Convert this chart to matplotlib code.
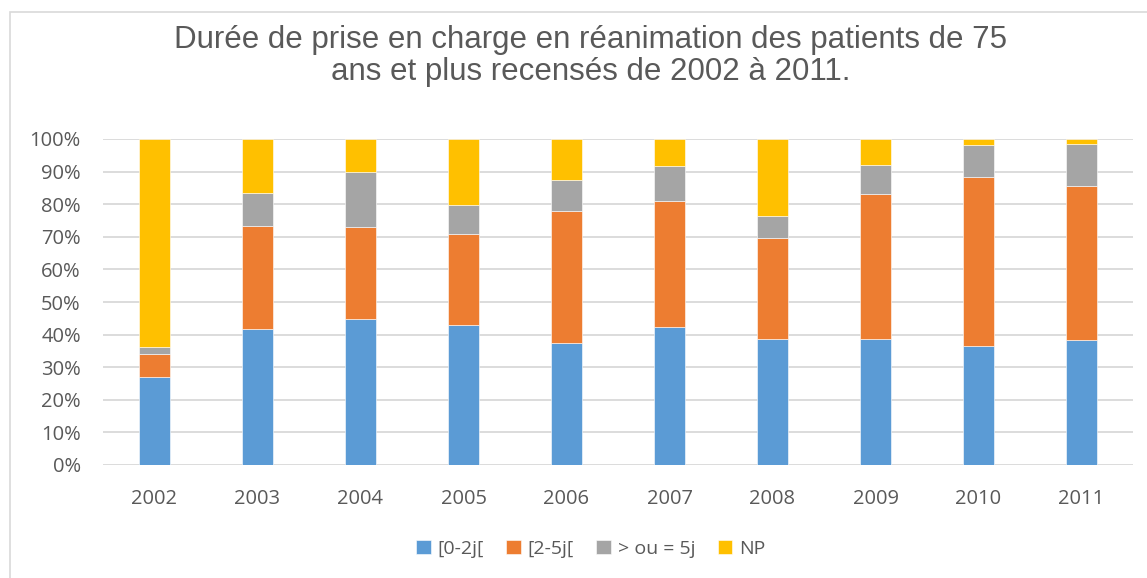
import numpy as np
import matplotlib.pyplot as plt
from matplotlib.patches import Rectangle
from matplotlib.ticker import FuncFormatter

years = ["2002", "2003", "2004", "2005", "2006", "2007", "2008", "2009", "2010", "2011"]
d_0_2 = [27.1, 41.6, 44.7, 43.0, 37.3, 42.2, 38.5, 38.5, 36.6, 38.2]
d_2_5 = [6.9, 31.7, 28.4, 28.0, 40.7, 38.7, 31.2, 44.5, 51.8, 47.5]
d_5p = [2.3, 10.1, 16.9, 8.7, 9.5, 10.9, 6.8, 8.9, 9.9, 12.9]
d_np = [63.7, 16.6, 10.0, 20.3, 12.5, 8.2, 23.5, 8.1, 1.7, 1.4]

labels = ["[0-2j[", "[2-5j[", "> ou = 5j", "NP"]
colors = ["#5b9bd5", "#ed7d31", "#a5a5a5", "#ffc000"]

fig = plt.figure(figsize=(11.47, 5.78), dpi=100)
fig.patches.append(Rectangle((10 / 1147, -0.01), 1.0, 1 - 12 / 578 + 0.01, transform=fig.transFigure,
                             fill=False, edgecolor="#d9d9d9", linewidth=1.2))
ax = fig.add_axes([103 / 1147, 1 - 465 / 578, 1030 / 1147, 326 / 578])

x = np.arange(len(years))
series = [d_0_2, d_2_5, d_5p, d_np]
bottom = np.zeros(len(years))
handles = []
for vals, lab, col in zip(series, labels, colors):
    vals = np.array(vals)
    b = ax.bar(x, vals, 0.31, bottom=bottom, color=col, label=lab, zorder=3,
               edgecolor="white", linewidth=0.4)
    handles.append(b)
    bottom += vals

ax.set_xlim(-0.5, len(years) - 0.5)
ax.set_ylim(0, 100)
ax.set_yticks(np.arange(0, 101, 10))
ax.yaxis.set_major_formatter(FuncFormatter(lambda v, p: "%d%%" % v))
ax.set_xticks(x)
ax.set_xticklabels(years)
ax.grid(axis="y", color="#d9d9d9", linewidth=1.3, zorder=0)
for s in ax.spines.values():
    s.set_visible(False)
ax.tick_params(length=0, labelsize=14.5, labelcolor="#595959")
ax.tick_params(axis="y", pad=16)
ax.tick_params(axis="x", pad=17)
for t in ax.get_xticklabels() + ax.get_yticklabels():
    t.set_fontfamily("Open Sans")

fig.text(0.515, 1 - 40 / 578, "Durée de prise en charge en réanimation des patients de 75",
         ha="center", va="center", fontsize=22.5, color="#595959", family="Liberation Sans")
fig.text(0.515, 1 - 72 / 578, "ans et plus recensés de 2002 à 2011.",
         ha="center", va="center", fontsize=22.5, color="#595959", family="Liberation Sans")

leg = fig.legend(handles=handles, labels=labels, loc="center", ncol=4,
                 bbox_to_anchor=(0.515, 1 - 549 / 578), frameon=False,
                 handlelength=0.75, handleheight=0.75, handletextpad=0.35, columnspacing=1.15,
                 prop={"family": "Open Sans", "size": 14})
for t in leg.get_texts():
    t.set_color("#595959")

fig.savefig("out.png", dpi=100)
